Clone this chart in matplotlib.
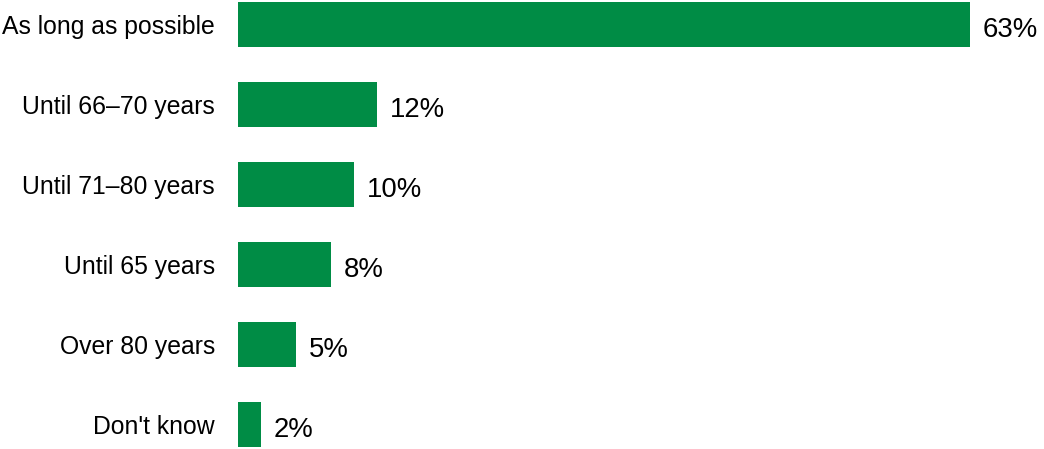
import matplotlib
matplotlib.use('Agg')
from matplotlib import pyplot as plt

categories = ['As long as possible', 'Until 66\u201370 years', 'Until 71\u201380 years',
              'Until 65 years', 'Over 80 years', "Don't know"]
values = [63, 12, 10, 8, 5, 2]
value_labels = ['63%', '12%', '10%', '8%', '5%', '2%']

plt.rcParams['font.family'] = ['Liberation Sans', 'DejaVu Sans']

fig = plt.figure(figsize=(10.44, 4.49), dpi=100)
ax = fig.add_axes([238 / 1044, 0, 1 - 238 / 1044, 1])

ypos = list(range(len(categories)))
ax.barh(ypos, values, height=0.5625, color='#008C45')

for y, v, lab in zip(ypos, values, value_labels):
    ax.text(v + 1.1, y + 0.03, lab, va='center_baseline', ha='left', fontsize=19.8, color='black')

ax.set_xlim(0, 69.4)
ax.set_ylim(5.306, -0.306)
ax.set_yticks(ypos)
ax.set_yticklabels(categories, fontsize=17.8)
ax.tick_params(axis='y', length=0, pad=16.5)
ax.set_xticks([])
for s in ax.spines.values():
    s.set_visible(False)

fig.savefig('out.png', dpi=100)
